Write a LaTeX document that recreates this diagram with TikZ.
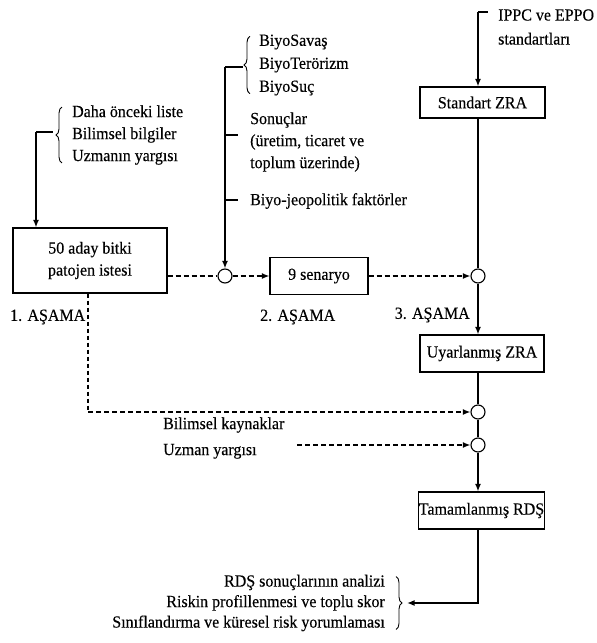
\documentclass[tikz,border=0pt]{standalone}
\usepackage{fontspec}
\setmainfont{Liberation Serif}[FakeStretch=0.94,FakeBold=0.3]
\usetikzlibrary{arrows.meta,decorations.pathreplacing,calc}
\newcommand\myfs{\fontsize{17}{22}\selectfont}
\begin{document}
\begin{tikzpicture}[x=1pt,y=-1pt,
  box/.style={draw,line width=1.1pt,align=center,inner sep=0pt,font=\myfs},
  lbl/.style={inner sep=0pt,align=left,font=\myfs},
  circ/.style={circle,draw,fill=white,line width=1.1pt,minimum size=14pt,inner sep=0pt},
  ln/.style={line width=1.7pt},
  dsh/.style={line width=2.2pt,dash pattern=on 5pt off 3pt},
  dshthin/.style={line width=1.1pt,dash pattern=on 4pt off 3pt},
  arr/.style={-{Latex[length=7.5pt,width=6pt]}},
  brc/.style={decorate,decoration={brace,amplitude=6pt},line width=0.9pt}]
\useasboundingbox (0,0) rectangle (597,643);

% ---- boxes
\node[box,minimum width=154pt,minimum height=65pt] (b1) at (90,260.5) {50 aday bitki\\patojen istesi};
\node[box,minimum width=98pt,minimum height=37pt] (b2) at (319,276) {9 senaryo};
\node[box,minimum width=125pt,minimum height=31pt] (b3) at (482.5,102.5) {Standart ZRA};
\node[box,minimum width=124pt,minimum height=37pt] (b4) at (482,353.5) {Uyarlanmış ZRA};
\node[box,minimum width=123pt,minimum height=37pt] (b5) at (481.5,510.5) {Tamamlanmış RDŞ};

% ---- circles
\node[circ] (c1) at (225,276) {};
\node[circ] (c2) at (478,276) {};
\node[circ] (c3) at (478,412) {};
\node[circ] (c4) at (478,445) {};

% ---- left group
\node[lbl,anchor=west] (t1) at (72,135) {Daha önceki liste\\Bilimsel bilgiler\\Uzmanın yargısı};
\draw[brc] ([xshift=-10pt,yshift=2pt]t1.south west) -- ([xshift=-10pt,yshift=-2pt]t1.north west);
\coordinate (k1) at (36,132);
\draw[ln] (k1) -- (53,132);
\draw[ln,arr] (k1) -- (k1 |- b1.north);

% ---- middle group
\node[lbl,anchor=west,font=\fontsize{17}{23}\selectfont] (t2) at (259,65) {BiyoSavaş\\BiyoTerörizm\\BiyoSuç};
\draw[brc] ([xshift=-9pt,yshift=2pt]t2.south west) -- ([xshift=-9pt,yshift=-2pt]t2.north west);
\node[lbl,anchor=west] (t3) at (250,142) {Sonuçlar\\(üretim, ticaret ve\\toplum üzerinde)};
\node[lbl,anchor=west] (t4) at (250,201) {Biyo-jeopolitik faktörler};
\coordinate (v2) at (225,67);
\draw[ln] (v2) -- (243,67);
\draw[ln] (225,135) -- (238,135);
\draw[ln] (225,200) -- (238,200);
\draw[ln,arr] (v2) -- (c1);

% ---- right group
\node[lbl,anchor=west,font=\fontsize{17}{24}\selectfont] (t5) at (498,27) {IPPC ve EPPO\\standartları};
\coordinate (v3) at (478,12);
\draw[ln] (v3) -- (488,12);
\draw[ln,arr] (v3) -- (v3 |- b3.north);
\draw[ln] (b3.south -| c2) -- (c2);
\draw[ln,arr] (c2) -- (c2 |- b4.north);
\draw[ln] (b4.south -| c3) -- (c3);
\draw[ln] (c3) -- (c4);
\draw[ln,arr] (c4) -- (c4 |- b5.north);

% ---- dashed flows
\draw[dsh] (b1.east |- c1) -- (c1);
\draw[dsh,arr] (c1) -- (b2);
\draw[dsh,arr] (b2) -- (c2);
\coordinate (d1) at (88,412);
\draw[dshthin] (b1.south -| d1) -- (d1);
\draw[dsh,arr] (d1) -- (c3);
\node[lbl,anchor=west,font=\fontsize{17}{26}\selectfont] (t6) at (163,438) {Bilimsel kaynaklar\\Uzman yargısı};
\coordinate (d2) at (297,445);
\draw[dsh,arr] (d2) -- (c4);

% ---- stage labels
\node[lbl,anchor=west] (s1) at (10,317) {1. AŞAMA};
\node[lbl,anchor=west] (s2) at (260,317) {2. AŞAMA};
\node[lbl,anchor=east] (s3) at (470,315) {3. AŞAMA};

% ---- bottom
\node[lbl,anchor=east,align=right,font=\fontsize{17}{20.5}\selectfont] (t8) at (385,603) {RDŞ sonuçlarının analizi\\Riskin profillenmesi ve toplu skor\\Sınıflandırma ve küresel risk yorumlaması};
\draw[brc] ([xshift=11pt,yshift=-2pt]t8.north east) -- ([xshift=11pt,yshift=2pt]t8.south east);
\coordinate (r1) at (478,603);
\coordinate (e8) at ($(t8.east)+(22pt,0)$);
\draw[ln,arr] (b5.south -| r1) -- (r1) -- (e8);
\end{tikzpicture}
\end{document}
